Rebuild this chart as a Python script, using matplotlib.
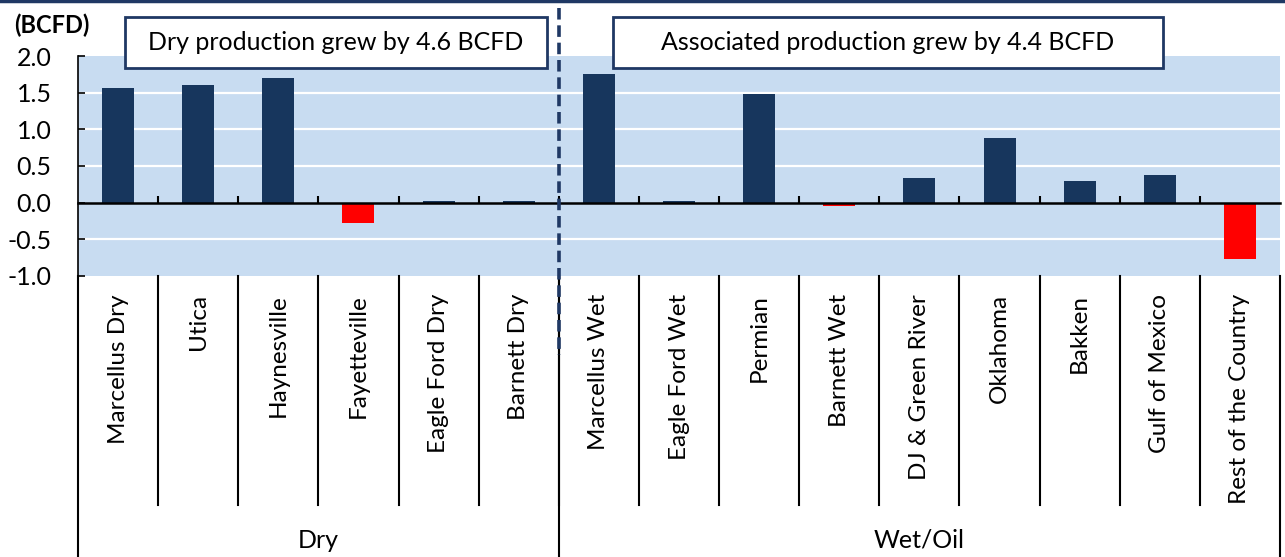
import matplotlib
matplotlib.use("Agg")
import matplotlib.pyplot as plt
from matplotlib.lines import Line2D
from matplotlib.patches import Rectangle
import matplotlib.transforms as mtransforms

plt.rcParams['font.family'] = ['Lato', 'DejaVu Sans']

# ---- data ----
categories = ["Marcellus Dry", "Utica", "Haynesville", "Fayetteville",
              "Eagle Ford Dry", "Barnett Dry",
              "Marcellus Wet", "Eagle Ford Wet", "Permian", "Barnett Wet",
              "DJ & Green River", "Oklahoma", "Bakken", "Gulf of Mexico",
              "Rest of the Country"]
values = [1.56, 1.61, 1.70, -0.28, 0.02, 0.02,
          1.75, 0.02, 1.48, -0.04, 0.33, 0.88, 0.30, 0.38, -0.77]
groups = ["Dry", "Wet/Oil"]
group_sizes = [6, 9]
box_texts = ["Dry production grew by 4.6 BCFD",
             "Associated production grew by 4.4 BCFD"]
y_ticks = [-1.0, -0.5, 0.0, 0.5, 1.0, 1.5, 2.0]
unit_label = "(BCFD)"

NAVY = "#17365D"
RED = "#FF0000"
BG = "#C8DCF1"

W, H = 1285, 557
fig = plt.figure(figsize=(W / 100, H / 100), dpi=100)
fig.patch.set_facecolor("white")

def fx(px):
    return px / W

def fy(py):
    return 1 - py / H

ax_left, ax_right, ax_top, ax_bot = 78, 1280, 56, 276
ax = fig.add_axes([fx(ax_left), fy(ax_bot), fx(ax_right - ax_left),
                   (ax_bot - ax_top) / H])
ax.set_facecolor(BG)

n = len(categories)
xs = list(range(n))
colors = [NAVY if v >= 0 else RED for v in values]
ax.bar(xs, values, width=0.4, color=colors, zorder=3)

ax.set_xlim(-0.5, n - 0.5)
ax.set_ylim(-1.0, 2.0)
ax.set_yticks(y_ticks)
ax.set_yticklabels([f"{t:.1f}" for t in y_ticks], fontsize=18)
for t in y_ticks:
    if -1.0 < t < 2.0 and t != 0:
        ax.axhline(t, color="white", lw=1.6, zorder=1)

for s in ["top", "right"]:
    ax.spines[s].set_visible(False)
ax.spines["left"].set_color("black")
ax.spines["left"].set_linewidth(1.2)
ax.spines["bottom"].set_position(("data", 0))
ax.spines["bottom"].set_linewidth(1.8)
ax.spines["bottom"].set_zorder(4)
ax.tick_params(axis="y", direction="in", length=5, width=1.2, pad=19)
ax.set_xticks([i - 0.5 for i in range(1, n)])
ax.set_xticklabels([])
ax.tick_params(axis="x", direction="in", length=5, width=1.5)

trans = mtransforms.blended_transform_factory(ax.transData, fig.transFigure)

# category separators and labels below the plot
for i in range(1, n):
    ax.add_line(Line2D([i - 0.5, i - 0.5], [fy(276), fy(505)], transform=trans,
                       color="black", lw=1.5, clip_on=False))
for i, c in enumerate(categories):
    ax.text(i, fy(294), c, transform=trans, rotation=90, ha="center",
            va="top", fontsize=17.5)

# group separators and labels
start = 0
edges = [-0.5]
for g, size in zip(groups, group_sizes):
    ax.text(start + (size - 1) / 2, fy(540), g, transform=trans,
            ha="center", va="center", fontsize=18)
    start += size
    edges.append(start - 0.5)
for e in edges:
    ax.add_line(Line2D([e, e], [fy(276), 0], transform=trans,
                       color="black", lw=1.5, clip_on=False))

# dashed divider between the two groups
ax.add_line(Line2D([5.5, 5.5], [fy(8), fy(355)], transform=trans,
                   color="#1F3864", lw=2.6, ls=(0, (3.2, 1.6)),
                   clip_on=False, zorder=6))

# annotation boxes
boxes = [(125, 547), (613, 1163)]
for (x0, x1), txt in zip(boxes, box_texts):
    fig.patches.append(Rectangle((fx(x0), fy(68)), fx(x1 - x0), (68 - 17) / H,
                                 transform=fig.transFigure, facecolor="white",
                                 edgecolor="#1F3864", lw=2, zorder=5))
    fig.text(fx((x0 + x1) / 2), fy(43), txt, ha="center", va="center",
             fontsize=18, zorder=6)

fig.text(fx(14), fy(25), unit_label, ha="left", va="center", fontsize=17,
         fontweight="bold")

# top border line
fig.add_artist(Line2D([0, 1], [fy(1), fy(1)], transform=fig.transFigure,
                      color="#1F3864", lw=2.5))

fig.savefig("out.png", dpi=100)
